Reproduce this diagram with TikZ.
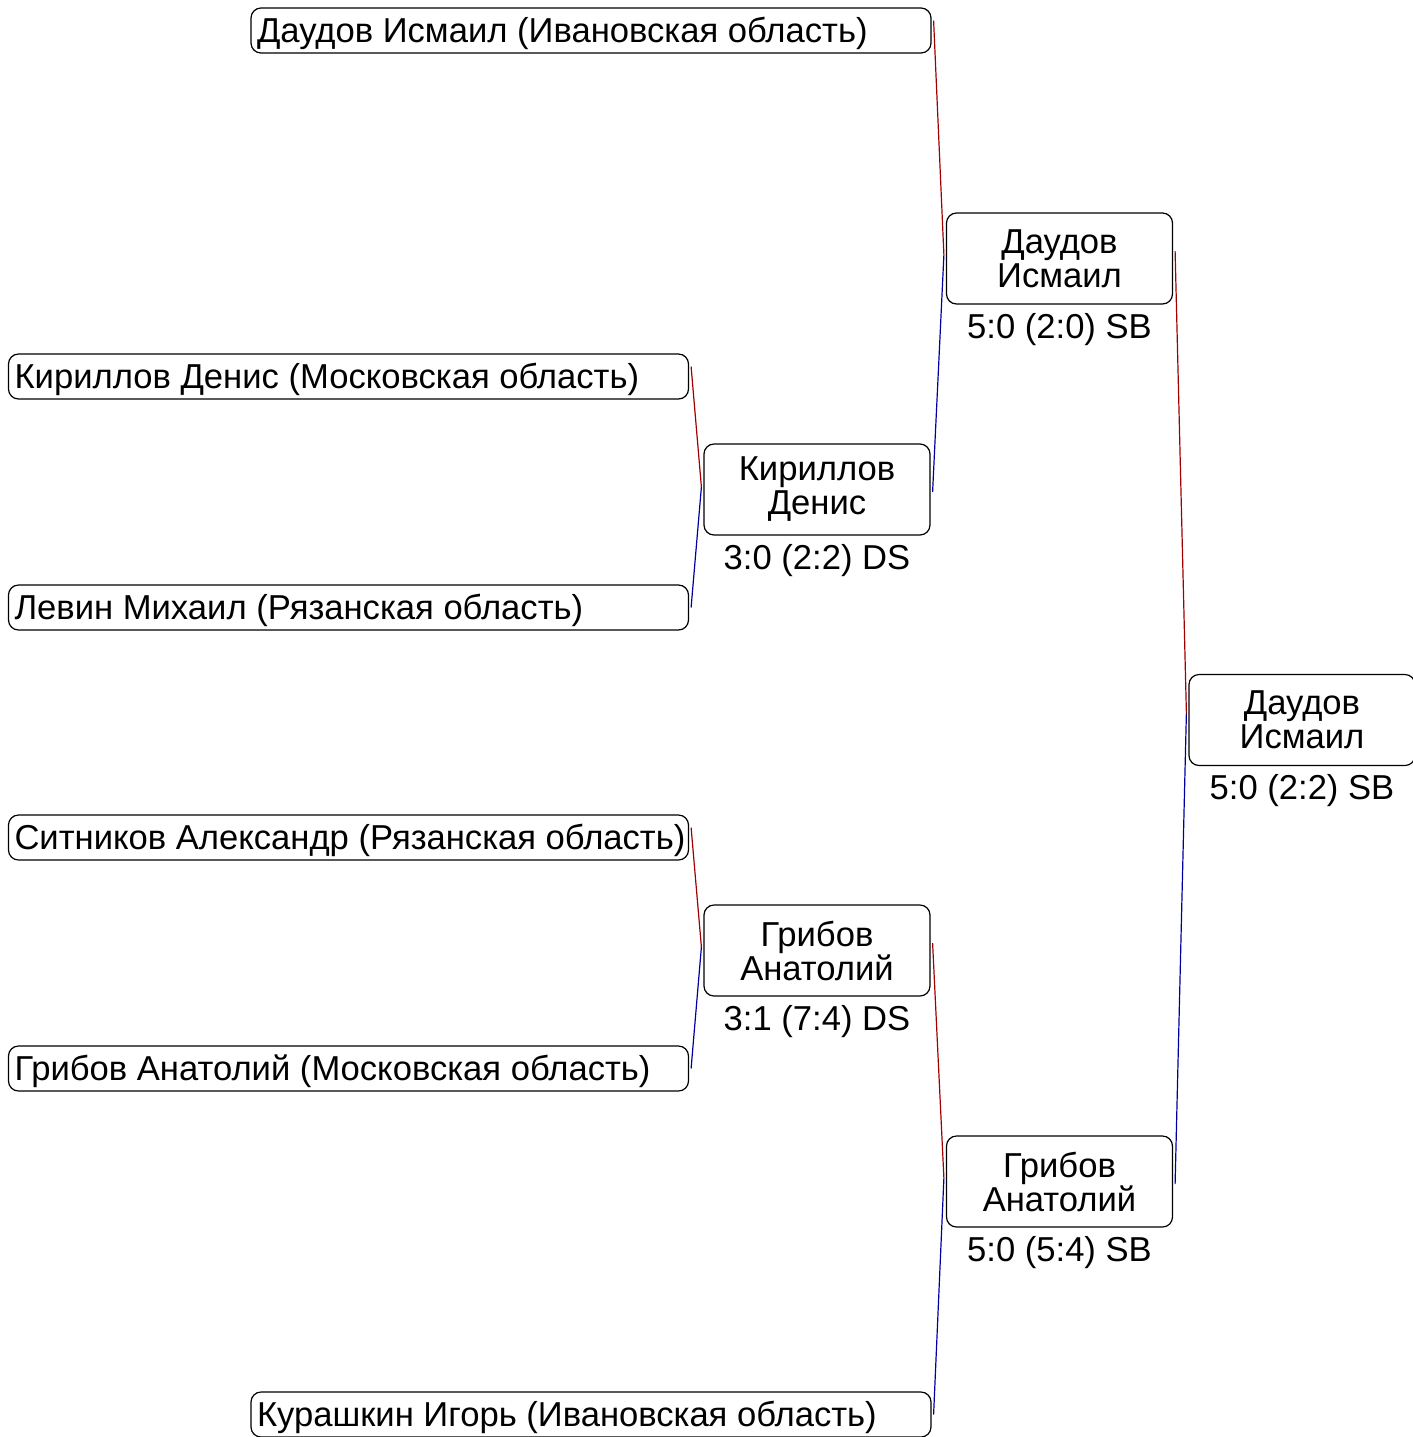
\documentclass[tikz,border=0pt]{standalone}
\usepackage{fontspec}
\setmainfont{Liberation Sans}
\usetikzlibrary{positioning,calc}
\definecolor{winred}{RGB}{160,0,0}
\definecolor{loseblue}{RGB}{0,0,160}
\newcommand{\plname}[1]{\makebox[334pt][l]{#1}}

\begin{document}
\begin{tikzpicture}[x=0.5pt, y=-0.5pt,
    pbox/.style={draw=black, rounded corners=5pt, minimum height=22.5pt, inner xsep=3pt, inner ysep=0pt, text height=12.6pt, text depth=0.2pt, line width=0.6pt, font=\fontsize{17.3}{17}\selectfont},
    wbox/.style={draw=black, rounded corners=5pt, minimum width=113pt, minimum height=45.5pt, inner sep=0pt, align=center, line width=0.6pt, font=\fontsize{17.3}{17}\selectfont},
    score/.style={inner sep=0pt, font=\fontsize{17.3}{17}\selectfont},
    winline/.style={winred, line width=0.6pt},
    loseline/.style={loseblue, line width=0.6pt}
]
\useasboundingbox (0,0) rectangle (1413,1437);

% === Round 1: players ===
\node[pbox] (p1) at (591, 30.5) {\plname{Даудов Исмаил (Ивановская область)}};
\node[pbox] (p2) at (348.5, 376.5) {\plname{Кириллов Денис (Московская область)}};
\node[pbox] (p3) at (348.5, 607.5) {\plname{Левин Михаил (Рязанская область)}};
\node[pbox] (p4) at (348.5, 837.5) {\plname{Ситников Александр (Рязанская область)}};
\node[pbox] (p5) at (348.5, 1068.5) {\plname{Грибов Анатолий (Московская область)}};
\node[pbox] (p6) at (591, 1414.5) {\plname{Курашкин Игорь (Ивановская область)}};

% === Round 1: winners ===
\node[wbox] (w1) at (817, 489.5) {Кириллов\\Денис};
\node[score, below=4pt of w1] (w1s) {3:0 (2:2) DS};
\node[wbox] (w2) at (817, 950.5) {Грибов\\Анатолий};
\node[score, below=4pt of w2] (w2s) {3:1 (7:4) DS};

% === Round 2 ===
\node[wbox] (s1) at (1059.5, 258.5) {Даудов\\Исмаил};
\node[score, below=4pt of s1] (s1s) {5:0 (2:0) SB};
\node[wbox] (s2) at (1059.5, 1181.5) {Грибов\\Анатолий};
\node[score, below=4pt of s2] (s2s) {5:0 (5:4) SB};

% === Final ===
\node[wbox] (fin) at (1302, 720) {Даудов\\Исмаил};
\node[score, below=4pt of fin] (fins) {5:0 (2:2) SB};

% meeting points
\coordinate (m1) at ($(w1.west)+(-2,-2.5)$);
\coordinate (m2) at ($(w2.west)+(-2,-3.5)$);
\coordinate (m3) at ($(s1.west)+(-2,-3.5)$);
\coordinate (m4) at ($(s2.west)+(-2,-3.5)$);
\coordinate (m5) at ($(fin.west)+(-2,-7)$);

% connectors
\draw[winline] ($(p2.east)+(2,-10)$) -- (m1);
\draw[loseline] (m1) -- ($(p3.east)+(2,0)$);
\draw[winline] ($(p4.east)+(2,-10)$) -- (m2);
\draw[loseline] (m2) -- ($(p5.east)+(2,0)$);
\draw[winline] ($(p1.east)+(2,-10)$) -- (m3);
\draw[loseline] (m3) -- ($(w1.east)+(2,2.5)$);
\draw[winline] ($(w2.east)+(2,-7.5)$) -- (m4);
\draw[loseline] (m4) -- ($(p6.east)+(2,0)$);
\draw[winline] ($(s1.east)+(2,-7.5)$) -- (m5);
\draw[loseline] (m5) -- ($(s2.east)+(2,2.5)$);

\end{tikzpicture}
\end{document}
